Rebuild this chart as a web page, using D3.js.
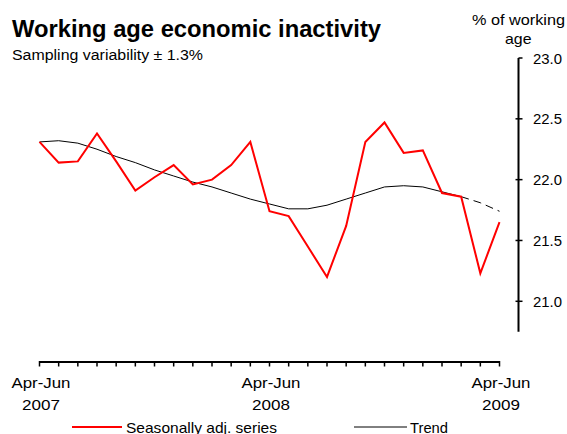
<!DOCTYPE html>
<html><head><meta charset="utf-8">
<script src="https://cdn.jsdelivr.net/npm/d3@7"></script>
<style>body{margin:0;background:#fff;} text{font-family:"Liberation Sans",Arial,sans-serif;}</style>
</head><body>
<svg id="c" width="567" height="434"></svg>
<script>
const periods = ["Apr-Jun 2007","May-Jul 2007","Jun-Aug 2007","Jul-Sep 2007","Aug-Oct 2007","Sep-Nov 2007","Oct-Dec 2007","Nov-Jan 2008","Dec-Feb 2008","Jan-Mar 2008","Feb-Apr 2008","Mar-May 2008","Apr-Jun 2008","May-Jul 2008","Jun-Aug 2008","Jul-Sep 2008","Aug-Oct 2008","Sep-Nov 2008","Oct-Dec 2008","Nov-Jan 2009","Dec-Feb 2009","Jan-Mar 2009","Feb-Apr 2009","Mar-May 2009","Apr-Jun 2009"];
const seasonal = [22.31,22.14,22.15,22.38,22.15,21.91,22.02,22.12,21.96,22.00,22.12,22.31,21.74,21.70,21.45,21.20,21.62,22.31,22.47,22.22,22.24,21.89,21.86,21.23,21.65];
const trend = [22.31,22.32,22.30,22.25,22.19,22.14,22.08,22.03,21.98,21.94,21.89,21.84,21.80,21.76,21.76,21.79,21.84,21.89,21.94,21.95,21.94,21.90,21.86,21.81,21.74];
const trendFinalIndex = 22; // trend is provisional (dashed) after this point
const yTicks = [21.0,21.5,22.0,22.5,23.0];
const xLabelIdx = [0,12,24];
const xLabels = [["Apr-Jun","2007"],["Apr-Jun","2008"],["Apr-Jun","2009"]];

const svg = d3.select("#c");
const x = d3.scalePoint().domain(d3.range(periods.length)).range([39.5,499.5]);
const y = d3.scaleLinear().domain([20.75,23.0]).range([331.7,58]);

// title
svg.append("text").attr("x",12).attr("y",37).attr("font-size",23).attr("font-weight","bold")
  .attr("textLength",369).attr("lengthAdjust","spacingAndGlyphs").text("Working age economic inactivity");
svg.append("text").attr("x",12).attr("y",60).attr("font-size",14)
  .attr("textLength",191).attr("lengthAdjust","spacingAndGlyphs").text("Sampling variability \u00b1 1.3%");
svg.append("text").attr("x",472).attr("y",25).attr("font-size",14.5)
  .attr("textLength",93).attr("lengthAdjust","spacingAndGlyphs").text("% of working");
svg.append("text").attr("x",505).attr("y",44).attr("font-size",14.5)
  .attr("textLength",26.5).attr("lengthAdjust","spacingAndGlyphs").text("age");

// y axis
const ya = svg.append("g").attr("transform","translate(518.5,0)");
ya.append("line").attr("y1",y(23.0)).attr("y2",y(20.75)).attr("stroke","#000").attr("stroke-width",2);
ya.selectAll("line.t").data(yTicks).join("line").attr("class","t")
  .attr("x1",d=>d===23.0?0:-3).attr("x2",4).attr("y1",d=>y(d)).attr("y2",d=>y(d)).attr("stroke","#000").attr("stroke-width",1.5);
ya.selectAll("text").data(yTicks).join("text").attr("x",14.5).attr("y",d=>y(d)+5.5).attr("font-size",14.5)
  .attr("textLength",29).attr("lengthAdjust","spacingAndGlyphs").text(d=>d.toFixed(1));

// x axis
const xa = svg.append("g");
xa.append("line").attr("x1",x(0)).attr("x2",x(24)).attr("y1",362).attr("y2",362).attr("stroke","#000").attr("stroke-width",2);
xa.selectAll("line.t").data(d3.range(periods.length)).join("line").attr("class","t")
  .attr("x1",d=>x(d)).attr("x2",d=>x(d)).attr("y1",361).attr("y2",366.5).attr("stroke","#000").attr("stroke-width",1.5);
xLabelIdx.forEach((idx,k)=>{
  const cx = x(idx)+1.5;
  xa.append("text").attr("x",cx-29.5).attr("y",388).attr("font-size",15.5)
    .attr("textLength",59).attr("lengthAdjust","spacingAndGlyphs").text(xLabels[k][0]);
  xa.append("text").attr("x",cx-19).attr("y",410).attr("font-size",15.5)
    .attr("textLength",38).attr("lengthAdjust","spacingAndGlyphs").text(xLabels[k][1]);
});

// lines
const line = d3.line().x((d,i)=>x(i)).y(d=>y(d));
const lineT = d3.line().defined((d,i)=>i<=trendFinalIndex).x((d,i)=>x(i)).y(d=>y(d));
const lineD = d3.line().defined((d,i)=>i>=trendFinalIndex).x((d,i)=>x(i)).y(d=>y(d));
svg.append("path").attr("d",lineT(trend)).attr("fill","none").attr("stroke","#000").attr("stroke-width",1);
svg.append("path").attr("d",lineD(trend)).attr("fill","none").attr("stroke","#000").attr("stroke-width",1).attr("stroke-dasharray","8,5");
svg.append("path").attr("d",line(seasonal)).attr("fill","none").attr("stroke","#ff0000").attr("stroke-width",2).attr("stroke-linejoin","miter");

// legend
svg.append("line").attr("x1",72).attr("x2",122).attr("y1",427).attr("y2",427).attr("stroke","#ff0000").attr("stroke-width",2);
svg.append("text").attr("x",126).attr("y",432.5).attr("font-size",15)
  .attr("textLength",151).attr("lengthAdjust","spacingAndGlyphs").text("Seasonally adj. series");
svg.append("line").attr("x1",354).attr("x2",407).attr("y1",427).attr("y2",427).attr("stroke","#000").attr("stroke-width",1);
svg.append("text").attr("x",410).attr("y",432.5).attr("font-size",15)
  .attr("textLength",38).attr("lengthAdjust","spacingAndGlyphs").text("Trend");
</script>
</body></html>
